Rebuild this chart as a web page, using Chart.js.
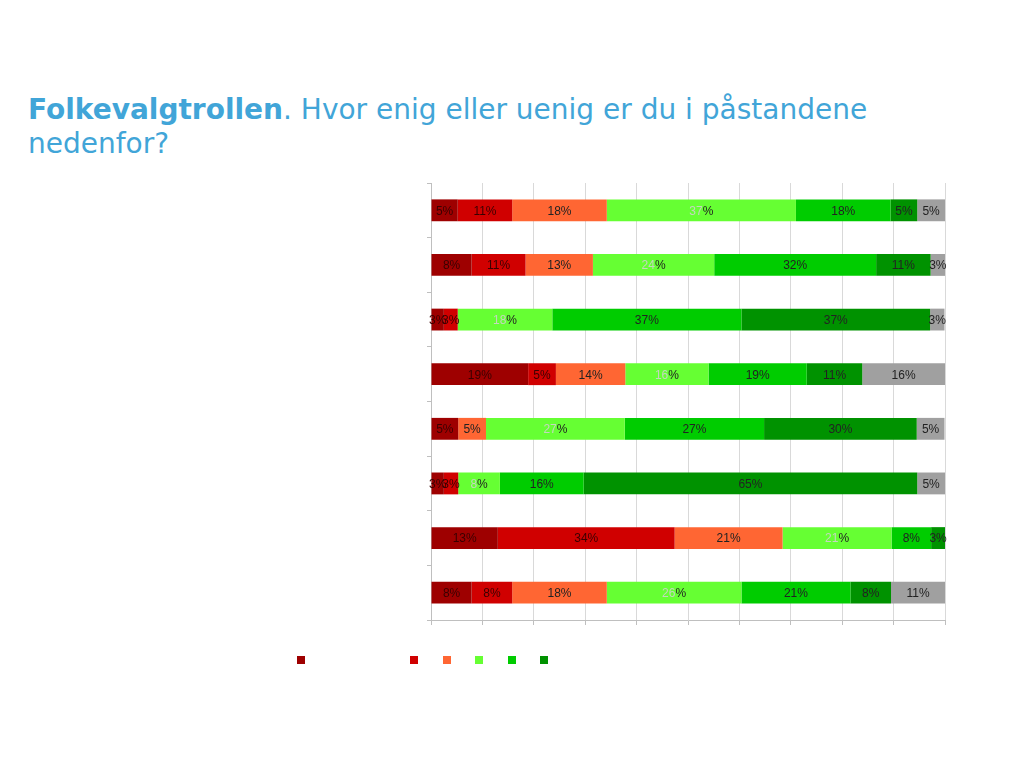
<!DOCTYPE html>
<html>
<head>
<meta charset="utf-8">
<script src="https://cdn.jsdelivr.net/npm/chart.js@4"></script>
<style>
  body { margin: 0; background: #fff; width: 1024px; height: 768px; position: relative; overflow: hidden; }
  #title { position: absolute; left: 28px; top: 93px; width: 900px; font-family: "DejaVu Sans", sans-serif; font-size: 28px; line-height: 34px; color: #41a5d8; }
  #title b { font-weight: bold; }
  #wrap { position: absolute; left: 410px; top: 170px; width: 560px; height: 470px; }
  #legend { position: absolute; top: 656px; left: 0; }
  .sq { position: absolute; width: 8px; height: 8px; top: 0; }
</style>
</head>
<body>
<div id="title"><b>Folkevalgtrollen</b>. Hvor enig eller uenig er du i påstandene nedenfor?</div>
<div id="wrap"><canvas id="c"></canvas></div>
<div id="legend"></div>
<script>
// påstander (teksten er ikke synlig i bildet)
const categories = ['', '', '', '', '', '', '', ''];

const seriesNames = ['Helt uenig', 'Uenig', 'Litt uenig', 'Litt enig', 'Enig', 'Helt enig', 'Vet ikke'];
const seriesColors = ['#9e0000', '#d00000', '#ff6633', '#66ff33', '#00cc00', '#009200', '#a0a0a0'];

// andeler i prosent, én liste per svaralternativ (rad 1..8)
const heltUenig  = [5.2, 7.9, 2.5, 18.9, 5.3, 2.5, 13.0, 7.9];
const uenig      = [10.6, 10.5, 2.7, 5.4, 0, 2.8, 34.4, 7.9];
const littUenig  = [18.4, 13.1, 0, 13.5, 5.4, 0, 21.0, 18.4];
const littEnig   = [36.8, 23.6, 18.4, 16.2, 27.0, 8.1, 21.2, 26.2];
const enig       = [18.4, 31.5, 36.8, 19.1, 27.1, 16.3, 7.7, 21.2];
const heltEnig   = [5.2, 10.6, 36.7, 10.8, 29.7, 64.9, 2.7, 7.9];
const vetIkke    = [5.4, 2.8, 2.8, 16.1, 5.4, 5.4, 0, 10.5];

const series = [heltUenig, uenig, littUenig, littEnig, enig, heltEnig, vetIkke];
const xTicks = [0, 10, 20, 30, 40, 50, 60, 70, 80, 90, 100];

const labelPlugin = {
  id: 'barLabels',
  afterDatasetsDraw(chart) {
    const ctx = chart.ctx;
    ctx.save();
    ctx.font = '12px "Liberation Sans", sans-serif';
    ctx.textBaseline = 'middle';
    chart.data.datasets.forEach((ds, i) => {
      const meta = chart.getDatasetMeta(i);
      meta.data.forEach((bar, j) => {
        const v = ds.data[j];
        if (!v) return;
        const cx = (bar.x + bar.base) / 2;
        const num = String(Math.round(v));
        if (i === 3) {
          // tallet er nesten usynlig i originalen, bare % syns tydelig
          const w1 = ctx.measureText(num).width;
          const w = ctx.measureText(num + '%').width;
          ctx.textAlign = 'left';
          ctx.fillStyle = '#c4d6bf';
          ctx.fillText(num, cx - w / 2, bar.y + 1);
          ctx.fillStyle = '#222';
          ctx.fillText('%', cx - w / 2 + w1, bar.y + 1);
        } else {
          ctx.textAlign = 'center';
          ctx.fillStyle = i <= 1 ? '#3a0000' : '#222';
          ctx.fillText(num + '%', cx, bar.y + 1);
        }
      });
    });
    ctx.restore();
  }
};

const chart = new Chart(document.getElementById('c').getContext('2d'), {
  type: 'bar',
  data: {
    labels: categories,
    datasets: series.map((d, i) => ({
      label: seriesNames[i],
      data: d,
      backgroundColor: seriesColors[i],
      borderWidth: 0,
      barPercentage: 0.4,
      categoryPercentage: 1
    }))
  },
  options: {
    indexAxis: 'y',
    responsive: true,
    maintainAspectRatio: false,
    animation: false,
    layout: { padding: { left: 17, right: 25, top: 13, bottom: 15 } },
    scales: {
      x: {
        stacked: true,
        min: 0,
        max: 100,
        afterBuildTicks: (axis) => { axis.ticks = xTicks.map(v => ({ value: v })); },
        ticks: { display: false },
        grid: { color: '#d9d9d9', tickLength: 5, tickColor: '#bfbfbf' },
        border: { display: true, color: '#bfbfbf' }
      },
      y: {
        stacked: true,
        ticks: { display: false },
        grid: { drawOnChartArea: false, tickLength: 4, tickColor: '#bfbfbf' },
        border: { display: true, color: '#bfbfbf' }
      }
    },
    plugins: {
      legend: { display: false },
      tooltip: { enabled: false }
    }
  },
  plugins: [labelPlugin]
});

// forklaring: kun fargeruter synlige i originalen
const legendX = [297, 410, 443, 475, 508, 540];
const legendEl = document.getElementById('legend');
legendX.forEach((x, i) => {
  const s = document.createElement('div');
  s.className = 'sq';
  s.style.left = x + 'px';
  s.style.background = seriesColors[i];
  s.title = seriesNames[i];
  legendEl.appendChild(s);
});
</script>
</body>
</html>
